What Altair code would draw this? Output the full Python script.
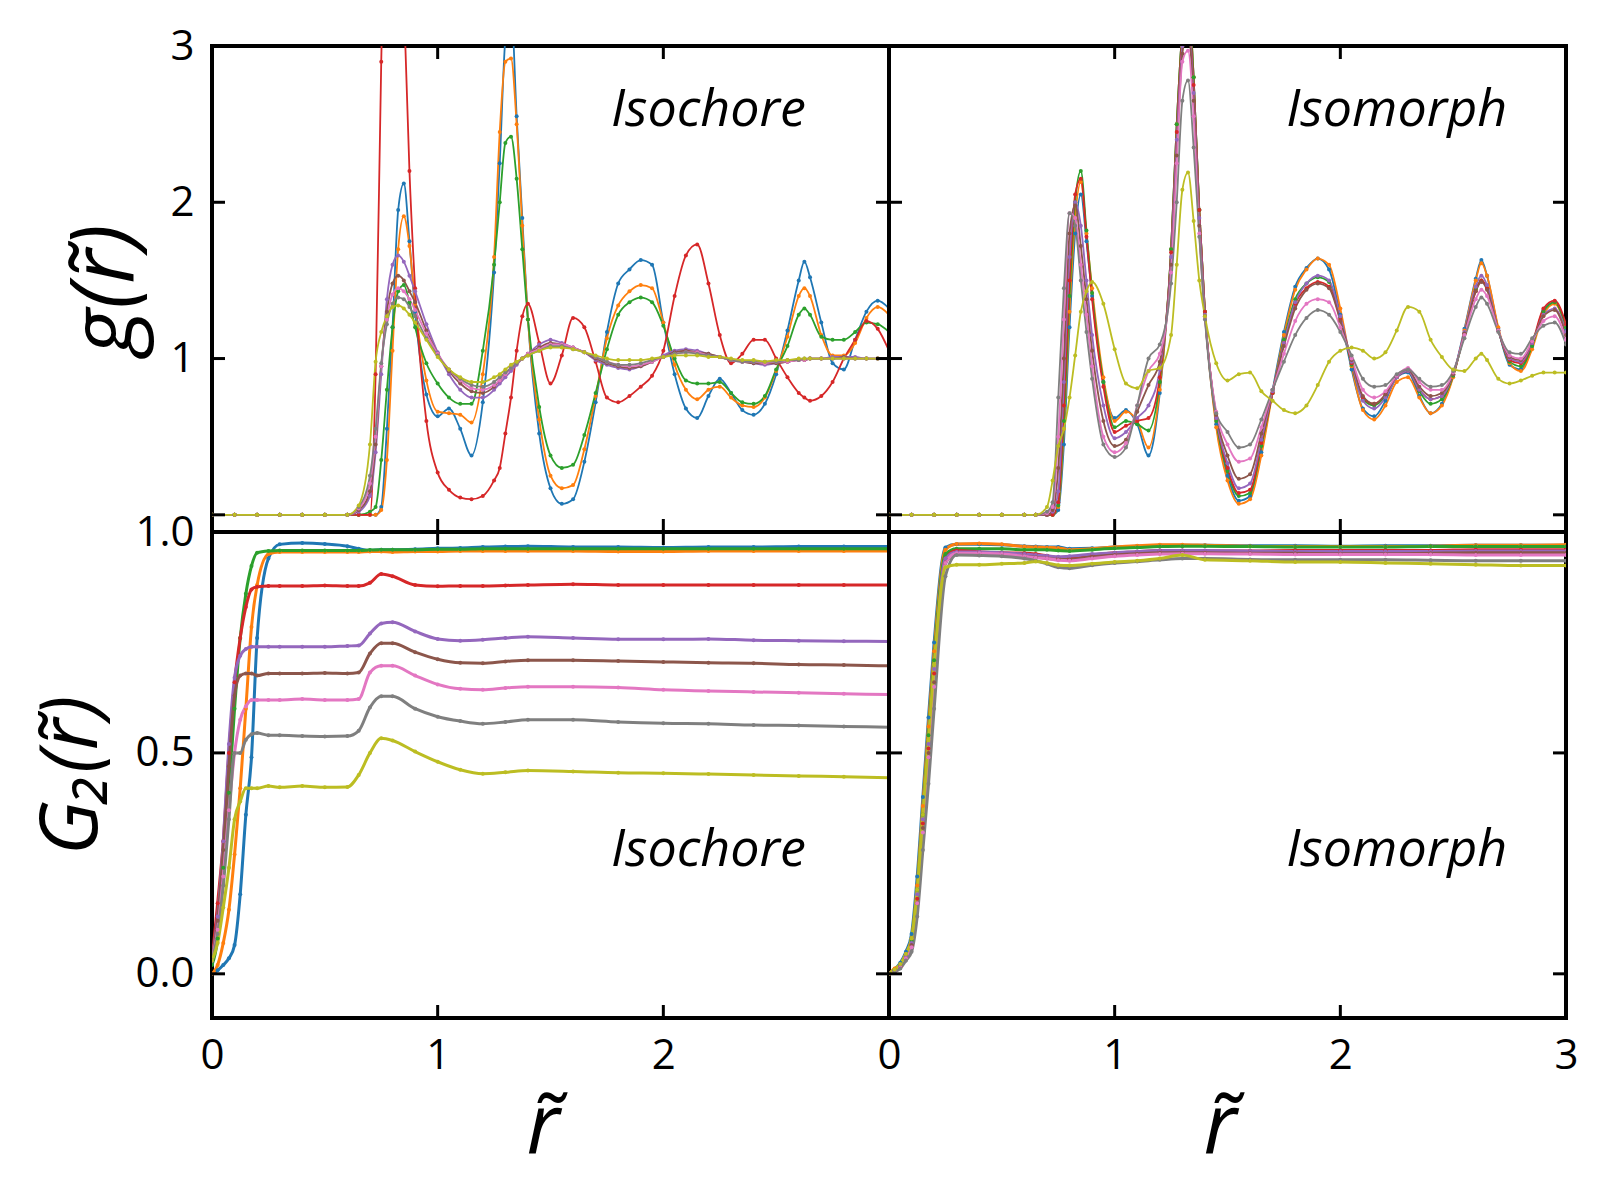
import altair as alt
import pandas as pd

FONT = "Open Sans"
SERIES = ["c1", "c2", "c3", "c4", "c5", "c6", "c7", "c8", "c9"]
COLORS = ["#1f77b4", "#ff7f0e", "#2ca02c", "#d62728", "#9467bd",
          "#8c564b", "#e377c2", "#7f7f7f", "#bcbd22"]

W, H = 677, 486
TICK = 13

# ---------------- r grids ----------------
R_TOP = [0, 0.1, 0.2, 0.3, 0.4, 0.5, 0.6,
         0.65, 0.7,
         0.725, 0.75, 0.775, 0.8, 0.825, 0.85, 0.875, 0.9,
         0.95, 1.0, 1.05, 1.1, 1.15, 1.2, 1.25,
         1.275, 1.3, 1.325, 1.35, 1.375, 1.4,
         1.45, 1.5, 1.55, 1.6, 1.65, 1.7, 1.75, 1.8, 1.85, 1.9, 1.95, 2.0,
         2.05, 2.1, 2.15, 2.2, 2.25, 2.3, 2.35, 2.4, 2.45, 2.5, 2.55, 2.6,
         2.625,
         2.65, 2.7, 2.75, 2.8, 2.85, 2.9, 2.95, 3.0]

R_BOT = [0, 0.025, 0.05, 0.075, 0.1, 0.125, 0.15, 0.175, 0.2,
         0.25, 0.3, 0.4, 0.5, 0.6,
         0.65, 0.7, 0.75, 0.8, 0.9, 1.0, 1.1, 1.2, 1.3,
         1.4, 1.6, 1.8, 2.0, 2.2, 2.4, 2.6, 2.8, 3.0]

# ---------------- g(r), isochore ----------------
ICG_BLUE = [0, 0, 0, 0, 0, 0, 0, 0, 0,
            0.0, 0.05, 0.55, 1.2, 1.95, 2.12, 1.75, 1.3,
            0.77, 0.63, 0.68, 0.55, 0.38, 0.72, 1.55,
            2.25, 3.05, 3.25, 2.55, 1.9, 1.25,
            0.52, 0.17, 0.07, 0.10, 0.34, 0.72, 1.17, 1.48, 1.57, 1.63, 1.6, 1.23,
            0.9, 0.68, 0.62, 0.76, 0.87, 0.78, 0.67, 0.64, 0.71, 0.9, 1.18, 1.5,
            1.62,
            1.52, 1.23, 0.97, 0.93, 1.12, 1.3, 1.37, 1.32]
ICG_ORANGE = [0, 0, 0, 0, 0, 0, 0, 0, 0,
              0.0, 0.03, 0.35, 1.05, 1.7, 1.91, 1.72, 1.35,
              0.86, 0.66, 0.65, 0.64, 0.59, 0.9, 1.65,
              2.45, 2.9, 2.92, 2.5, 1.85, 1.25,
              0.61, 0.25, 0.17, 0.19, 0.42, 0.76, 1.13, 1.34, 1.43, 1.47, 1.45, 1.23,
              0.96, 0.80, 0.74, 0.80, 0.82, 0.75, 0.70, 0.69, 0.75, 0.92, 1.14, 1.4,
              1.45,
              1.4, 1.15, 1.02, 1.02, 1.1, 1.26, 1.33, 1.28]
ICG_GREEN = [0, 0, 0, 0, 0, 0, 0, 0, 0.02,
             0.05, 0.35, 0.8, 1.2, 1.43, 1.47, 1.36, 1.2,
             0.97, 0.84, 0.75, 0.71, 0.71, 1.05, 1.6,
             2.0, 2.38, 2.42, 2.15, 1.7, 1.25,
             0.69, 0.38, 0.30, 0.32, 0.51, 0.78, 1.06, 1.28, 1.36, 1.39, 1.36, 1.21,
             1.0, 0.86, 0.84, 0.84, 0.85, 0.78, 0.72, 0.71, 0.76, 0.93, 1.08, 1.28,
             1.32,
             1.28, 1.14, 1.12, 1.12, 1.17, 1.23, 1.22, 1.17]
ICG_RED = [0, 0, 0, 0, 0, 0, 0, 0, 0.0,
           0.9, 2.9, 4.6, 5.3, 4.8, 3.3, 2.2, 1.45,
           0.6, 0.27, 0.16, 0.11, 0.10, 0.12, 0.22,
           0.3, 0.52, 0.75, 1.05, 1.27, 1.35,
           1.1, 0.84, 1.02, 1.26, 1.2, 0.98, 0.75, 0.72, 0.76, 0.82, 0.89, 1.05,
           1.4, 1.66, 1.73, 1.48, 1.15, 0.97, 1.03, 1.12, 1.12, 1.0, 0.88, 0.78,
           0.75,
           0.73, 0.76, 0.85, 1.0, 1.12, 1.24, 1.19, 1.05]
ICG_PURPLE = [0, 0, 0, 0, 0, 0, 0, 0.02, 0.12,
              0.4, 0.9, 1.38, 1.6, 1.66, 1.62, 1.53, 1.43,
              1.22, 1.04, 0.9, 0.8, 0.75, 0.75, 0.8,
              0.84, 0.88, 0.92, 0.96, 1.0, 1.03,
              1.09, 1.12, 1.10, 1.07, 1.04, 0.99, 0.96, 0.94, 0.93, 0.95, 0.98, 1.02,
              1.05, 1.06, 1.05, 1.03, 1.01, 0.99, 0.98, 0.97, 0.96, 0.97, 0.98, 0.99,
              0.99,
              1.0, 1.0, 1.01, 1.01, 1.01, 1.0, 1.0, 1.0]
ICG_BROWN = [0, 0, 0, 0, 0, 0, 0, 0.03, 0.15,
             0.45, 0.95, 1.3, 1.48, 1.53, 1.5, 1.43, 1.36,
             1.18, 1.03, 0.92, 0.84, 0.79, 0.78, 0.82,
             0.86, 0.9, 0.94, 0.97, 1.0, 1.03,
             1.07, 1.1, 1.09, 1.07, 1.04, 1.0, 0.97, 0.95, 0.94, 0.95, 0.98, 1.01,
             1.04, 1.05, 1.04, 1.03, 1.01, 0.99, 0.98, 0.97, 0.97, 0.97, 0.98, 0.99,
             0.99,
             1.0, 1.0, 1.0, 1.01, 1.0, 1.0, 1.0, 1.0]
ICG_PINK = [0, 0, 0, 0, 0, 0, 0, 0.04, 0.2,
            0.5, 0.95, 1.25, 1.41, 1.45, 1.43, 1.38, 1.31,
            1.16, 1.03, 0.93, 0.86, 0.81, 0.8, 0.83,
            0.86, 0.9, 0.94, 0.97, 1.0, 1.03,
            1.06, 1.09, 1.09, 1.07, 1.04, 1.01, 0.98, 0.96, 0.95, 0.96, 0.98, 1.01,
            1.03, 1.04, 1.04, 1.02, 1.01, 0.99, 0.98, 0.98, 0.97, 0.98, 0.98, 0.99,
            0.99,
            1.0, 1.0, 1.0, 1.0, 1.0, 1.0, 1.0, 1.0]
ICG_GRAY = [0, 0, 0, 0, 0, 0, 0, 0.05, 0.25,
            0.55, 0.97, 1.22, 1.35, 1.39, 1.38, 1.33, 1.27,
            1.13, 1.02, 0.93, 0.87, 0.83, 0.82, 0.85,
            0.88, 0.91, 0.94, 0.97, 1.0, 1.02,
            1.05, 1.08, 1.08, 1.06, 1.04, 1.01, 0.98, 0.96, 0.96, 0.97, 0.99, 1.01,
            1.03, 1.04, 1.03, 1.02, 1.01, 0.99, 0.98, 0.98, 0.98, 0.98, 0.99, 0.99,
            1.0,
            1.0, 1.0, 1.0, 1.0, 1.0, 1.0, 1.0, 1.0]
ICG_OLIVE = [0, 0, 0, 0, 0, 0, 0, 0.06, 0.45,
             0.98, 1.17, 1.27, 1.33, 1.34, 1.32, 1.28, 1.23,
             1.12, 1.01, 0.93, 0.88, 0.85, 0.85, 0.88,
             0.9, 0.93, 0.96, 0.98, 1.0, 1.02,
             1.05, 1.07, 1.07, 1.06, 1.04, 1.02, 1.0, 0.99, 0.99, 0.99, 1.0, 1.01,
             1.02, 1.02, 1.02, 1.01, 1.01, 1.0, 0.99, 0.99, 0.98, 0.99, 0.99, 1.0,
             1.0,
             1.0, 1.0, 1.0, 1.0, 1.0, 1.0, 1.0, 1.0]

# ---------------- g(r), isomorph ----------------
IMG_BLUE = [0, 0, 0, 0, 0, 0, 0, 0, 0,
            0.0, 0.03, 0.45, 1.2, 1.8, 2.05, 1.75, 1.4,
            0.85, 0.62, 0.67, 0.58, 0.38, 0.78, 1.7,
            2.5, 3.1, 3.3, 2.8, 1.95, 1.3,
            0.58, 0.25, 0.09, 0.12, 0.40, 0.8, 1.17, 1.46, 1.58, 1.64, 1.57, 1.28,
            0.93, 0.68, 0.63, 0.73, 0.88, 0.91, 0.76, 0.65, 0.71, 0.89, 1.19, 1.51,
            1.63,
            1.53, 1.19, 0.96, 0.93, 1.08, 1.31, 1.36, 1.19]
IMG_ORANGE = [0, 0, 0, 0, 0, 0, 0, 0, 0,
              0.0, 0.05, 0.55, 1.3, 1.9, 2.13, 1.8, 1.45,
              0.88, 0.6, 0.66, 0.6, 0.43, 0.8, 1.7,
              2.5, 3.1, 3.3, 2.8, 1.95, 1.3,
              0.56, 0.22, 0.07, 0.1, 0.38, 0.78, 1.15, 1.44, 1.57, 1.64, 1.6, 1.32,
              0.95, 0.67, 0.61, 0.7, 0.85, 0.88, 0.75, 0.65, 0.7, 0.88, 1.18, 1.5,
              1.61,
              1.53, 1.2, 0.97, 0.92, 1.06, 1.28, 1.35, 1.2]
IMG_GREEN = [0, 0, 0, 0, 0, 0, 0, 0, 0,
             0.0, 0.06, 0.6, 1.4, 2.0, 2.2, 1.82, 1.42,
             0.85, 0.56, 0.6, 0.58, 0.54, 0.85, 1.7,
             2.5, 3.1, 3.3, 2.8, 1.95, 1.3,
             0.6, 0.28, 0.12, 0.14, 0.44, 0.78, 1.12, 1.38, 1.48, 1.52, 1.49, 1.26,
             0.96, 0.74, 0.7, 0.76, 0.88, 0.92, 0.79, 0.71, 0.74, 0.89, 1.16, 1.44,
             1.5,
             1.45, 1.18, 0.98, 0.95, 1.08, 1.3, 1.36, 1.2]
IMG_RED = [0, 0, 0, 0, 0, 0, 0, 0, 0,
           0.0, 0.08, 0.7, 1.5, 2.05, 2.15, 1.78, 1.38,
           0.82, 0.53, 0.57, 0.6, 0.62, 0.88, 1.68,
           2.45, 3.05, 3.2, 2.75, 1.95, 1.3,
           0.62, 0.3, 0.14, 0.16, 0.46, 0.78, 1.1, 1.35, 1.45, 1.49, 1.46, 1.25,
           0.97, 0.75, 0.71, 0.77, 0.88, 0.92, 0.8, 0.74, 0.76, 0.9, 1.16, 1.43,
           1.5,
           1.45, 1.18, 0.99, 0.97, 1.1, 1.32, 1.37, 1.22]
IMG_PURPLE = [0, 0, 0, 0, 0, 0, 0, 0, 0.0,
              0.02, 0.15, 0.85, 1.65, 2.0, 1.85, 1.5, 1.15,
              0.7, 0.49, 0.53, 0.62, 0.7, 0.93, 1.65,
              2.4, 3.0, 3.15, 2.7, 1.9, 1.28,
              0.62, 0.33, 0.17, 0.2, 0.48, 0.79, 1.1, 1.36, 1.48, 1.53, 1.5, 1.27,
              0.98, 0.73, 0.68, 0.75, 0.88, 0.92, 0.8, 0.74, 0.76, 0.9, 1.17, 1.46,
              1.53,
              1.47, 1.18, 1.0, 0.98, 1.1, 1.28, 1.32, 1.17]
IMG_BROWN = [0, 0, 0, 0, 0, 0, 0, 0, 0.0,
             0.03, 0.3, 1.0, 1.8, 1.98, 1.72, 1.38, 1.05,
             0.6, 0.44, 0.48, 0.66, 0.83, 0.98, 1.6,
             2.3, 2.95, 3.1, 2.65, 1.85, 1.27,
             0.64, 0.38, 0.23, 0.26, 0.52, 0.8, 1.08, 1.32, 1.44, 1.48, 1.45, 1.24,
             0.99, 0.76, 0.71, 0.77, 0.89, 0.93, 0.82, 0.76, 0.78, 0.9, 1.16, 1.43,
             1.49,
             1.44, 1.18, 1.01, 0.99, 1.11, 1.27, 1.31, 1.15]
IMG_PINK = [0, 0, 0, 0, 0, 0, 0, 0, 0.01,
            0.05, 0.5, 1.25, 1.93, 1.9, 1.6, 1.28, 0.95,
            0.5, 0.4, 0.46, 0.7, 0.92, 1.03, 1.55,
            2.25, 2.9, 2.97, 2.55, 1.8, 1.26,
            0.66, 0.45, 0.34, 0.36, 0.56, 0.8, 1.03, 1.24, 1.35, 1.38, 1.36, 1.2,
            1.0, 0.8, 0.75, 0.79, 0.89, 0.94, 0.85, 0.8, 0.8, 0.91, 1.15, 1.38,
            1.44,
            1.4, 1.18, 1.02, 1.0, 1.11, 1.24, 1.27, 1.12]
IMG_GRAY = [0, 0, 0, 0, 0, 0, 0, 0, 0.02,
            0.08, 0.75, 1.45, 1.93, 1.85, 1.5, 1.17, 0.87,
            0.45, 0.37, 0.43, 0.7, 1.0, 1.09, 1.48,
            2.0, 2.65, 2.78, 2.35, 1.78, 1.25,
            0.65, 0.53, 0.43, 0.45, 0.61, 0.8, 0.98, 1.15, 1.26, 1.31, 1.28, 1.17,
            1.02, 0.87, 0.82, 0.83, 0.9, 0.93, 0.87, 0.82, 0.83, 0.92, 1.13, 1.33,
            1.39,
            1.35, 1.17, 1.04, 1.03, 1.13, 1.21, 1.23, 1.09]
IMG_OLIVE = [0, 0, 0, 0, 0, 0, 0, 0.0, 0.05,
             0.22, 0.44, 0.55, 0.75, 1.02, 1.3, 1.43, 1.49,
             1.35, 1.06, 0.84, 0.81, 0.92, 0.94, 1.15,
             1.6, 2.08, 2.19, 1.88, 1.5, 1.27,
             0.97, 0.86, 0.9, 0.91, 0.79, 0.73, 0.67, 0.65, 0.7, 0.83, 0.98, 1.05,
             1.07, 1.05, 1.0, 1.04, 1.18, 1.33, 1.3, 1.12, 1.01, 0.93, 0.92, 1.0,
             1.03,
             0.99, 0.87, 0.84, 0.86, 0.89, 0.91, 0.91, 0.91]

# ---------------- G2(r), isochore ----------------
ICG2_BLUE = [0.0, 0.008, 0.02, 0.035, 0.065, 0.18, 0.36, 0.49, 0.76,
             0.94, 0.972, 0.975, 0.973, 0.968,
             0.962, 0.958, 0.96, 0.96, 0.961, 0.963, 0.964, 0.966, 0.967,
             0.968, 0.966, 0.966, 0.965, 0.966, 0.966, 0.967, 0.967, 0.967]
ICG2_ORANGE = [0.0, 0.02, 0.07, 0.145, 0.27, 0.42, 0.6, 0.785, 0.88,
               0.95, 0.955, 0.955, 0.955, 0.955,
               0.955, 0.956, 0.956, 0.955, 0.956, 0.956, 0.957, 0.957, 0.957,
               0.957, 0.957, 0.956, 0.956, 0.957, 0.957, 0.957, 0.957, 0.957]
ICG2_GREEN = [0.02, 0.08, 0.24, 0.41, 0.6, 0.76, 0.86, 0.923, 0.953,
              0.957, 0.958, 0.958, 0.958, 0.958,
              0.958, 0.959, 0.96, 0.96, 0.96, 0.961, 0.961, 0.962, 0.962,
              0.962, 0.962, 0.962, 0.962, 0.962, 0.962, 0.962, 0.962, 0.962]
ICG2_RED = [0.03, 0.16, 0.3, 0.5, 0.66, 0.76, 0.83, 0.87, 0.876,
            0.878, 0.878, 0.878, 0.879, 0.878,
            0.878, 0.885, 0.905, 0.9, 0.88, 0.877, 0.878, 0.878, 0.879,
            0.88, 0.882, 0.88, 0.88, 0.88, 0.88, 0.88, 0.88, 0.88]
ICG2_PURPLE = [0.03, 0.13, 0.3, 0.52, 0.67, 0.72, 0.735, 0.74, 0.74,
               0.74, 0.74, 0.74, 0.74, 0.742,
               0.743, 0.77, 0.793, 0.796, 0.775, 0.758, 0.754, 0.756, 0.76,
               0.763, 0.76, 0.757, 0.757, 0.758, 0.755, 0.754, 0.753, 0.752]
ICG2_BROWN = [0.03, 0.12, 0.28, 0.47, 0.63, 0.675, 0.68, 0.68, 0.675,
              0.68, 0.68, 0.68, 0.681, 0.68,
              0.682, 0.725, 0.748, 0.748, 0.728, 0.712, 0.704, 0.703, 0.707,
              0.71, 0.71, 0.708, 0.706, 0.704, 0.703, 0.7, 0.699, 0.697]
ICG2_PINK = [0.03, 0.1, 0.22, 0.37, 0.5, 0.575, 0.605, 0.62, 0.62,
             0.62, 0.62, 0.622, 0.62, 0.62,
             0.622, 0.682, 0.697, 0.697, 0.675, 0.655, 0.645, 0.643, 0.647,
             0.65, 0.65, 0.648, 0.643, 0.64, 0.638, 0.636, 0.634, 0.632]
ICG2_GRAY = [0.03, 0.09, 0.2, 0.35, 0.5, 0.5, 0.53, 0.542, 0.545,
             0.54, 0.54, 0.538, 0.537, 0.538,
             0.55, 0.603, 0.628, 0.628, 0.6, 0.582, 0.572, 0.566, 0.57,
             0.575, 0.575, 0.57, 0.567, 0.566, 0.563, 0.562, 0.56, 0.558]
ICG2_OLIVE = [0.03, 0.07, 0.15, 0.24, 0.35, 0.39, 0.42, 0.42, 0.42,
              0.425, 0.422, 0.425, 0.422, 0.423,
              0.45, 0.5, 0.533, 0.528, 0.503, 0.48, 0.462, 0.453, 0.456,
              0.46, 0.458, 0.455, 0.454, 0.452, 0.45, 0.448, 0.446, 0.444]

# ---------------- G2(r), isomorph ----------------
IMG2_BLUE = [0.0, 0.01, 0.025, 0.05, 0.09, 0.22, 0.4, 0.58, 0.75,
             0.965, 0.972, 0.972, 0.971, 0.968,
             0.967, 0.966, 0.966, 0.962, 0.963, 0.966, 0.968, 0.97, 0.97,
             0.97, 0.969, 0.969, 0.968, 0.969, 0.969, 0.97, 0.97, 0.97]
IMG2_ORANGE = [0.0, 0.012, 0.02, 0.045, 0.08, 0.2, 0.38, 0.56, 0.73,
               0.96, 0.973, 0.974, 0.972, 0.967,
               0.966, 0.965, 0.964, 0.96, 0.962, 0.966, 0.969, 0.971, 0.971,
               0.97, 0.968, 0.967, 0.967, 0.967, 0.968, 0.97, 0.97, 0.971]
IMG2_GREEN = [0.0, 0.008, 0.02, 0.04, 0.075, 0.19, 0.36, 0.54, 0.71,
              0.95, 0.962, 0.962, 0.962, 0.96,
              0.96, 0.96, 0.958, 0.957, 0.96, 0.963, 0.965, 0.967, 0.968,
              0.968, 0.967, 0.966, 0.966, 0.966, 0.967, 0.967, 0.967, 0.967]
IMG2_RED = [0.0, 0.005, 0.015, 0.035, 0.065, 0.17, 0.34, 0.51, 0.68,
            0.94, 0.958, 0.955, 0.953, 0.952,
            0.95, 0.946, 0.942, 0.94, 0.948, 0.953, 0.955, 0.958, 0.958,
            0.957, 0.957, 0.958, 0.958, 0.958, 0.958, 0.96, 0.96, 0.96]
IMG2_PURPLE = [0.0, 0.008, 0.018, 0.04, 0.07, 0.18, 0.35, 0.52, 0.69,
               0.94, 0.955, 0.955, 0.953, 0.95,
               0.948, 0.946, 0.944, 0.945, 0.95, 0.953, 0.956, 0.958, 0.958,
               0.958, 0.957, 0.956, 0.956, 0.956, 0.956, 0.957, 0.957, 0.957]
IMG2_BROWN = [0.0, 0.006, 0.016, 0.035, 0.065, 0.16, 0.33, 0.5, 0.66,
              0.93, 0.95, 0.949, 0.948, 0.945,
              0.943, 0.94, 0.938, 0.938, 0.944, 0.948, 0.951, 0.953, 0.953,
              0.953, 0.952, 0.952, 0.951, 0.951, 0.952, 0.953, 0.953, 0.953]
IMG2_PINK = [0.0, 0.006, 0.015, 0.035, 0.06, 0.16, 0.32, 0.49, 0.65,
             0.93, 0.952, 0.952, 0.95, 0.945,
             0.942, 0.94, 0.936, 0.935, 0.94, 0.945, 0.948, 0.95, 0.951,
             0.951, 0.95, 0.949, 0.949, 0.949, 0.949, 0.948, 0.948, 0.948]
IMG2_GRAY = [0.0, 0.005, 0.012, 0.03, 0.05, 0.13, 0.28, 0.43, 0.6,
             0.9, 0.948, 0.947, 0.945, 0.94,
             0.935, 0.928, 0.92, 0.918, 0.925, 0.93, 0.933, 0.937, 0.94,
             0.94, 0.938, 0.937, 0.937, 0.937, 0.936, 0.935, 0.935, 0.935]
IMG2_OLIVE = [0.0, 0.01, 0.022, 0.045, 0.08, 0.19, 0.36, 0.53, 0.7,
              0.92, 0.926, 0.926, 0.928, 0.93,
              0.933, 0.93, 0.925, 0.924, 0.928, 0.932, 0.935, 0.94, 0.948,
              0.937, 0.935, 0.932, 0.932, 0.93, 0.928, 0.926, 0.924, 0.924]

# ---------------- ticks / labels ----------------
TOP_Y_LABELS = [1, 2, 3]
BOT_Y_LABELS = [0.0, 0.5, 1.0]
TOP_Y_TICKS = [0, 1, 2]
BOT_Y_TICKS = [0.0, 0.5]
X_TICKS = [1, 2]
LEFT_X_LABELS = [0, 1, 2]
RIGHT_X_LABELS = [0, 1, 2, 3]
TOP_DOMAIN = [-0.11, 3.0]
BOT_DOMAIN = [-0.1, 1.0]


def long_frame(r, lists):
    rows = []
    for name, vals in zip(SERIES, lists):
        assert len(vals) == len(r), (name, len(vals), len(r))
        for x, v in zip(r, vals):
            rows.append({"r": x, "v": v, "s": name})
    return pd.DataFrame(rows)


def y_axis(values, fmt, title, title_x, title_size):
    return alt.Axis(values=values, format=fmt, ticks=False, tickSize=0, domain=False,
                    grid=False, labelFont=FONT, labelFontSize=42, labelColor="black",
                    labelPadding=18, labelFlush=False, labelOverlap=False,
                    title=title, titleFont=FONT, titleFontSize=title_size,
                    titleFontStyle="italic",
                    titleFontWeight="normal", titleColor="black", titleX=title_x,
                    titleY=H / 2, titleAngle=270, titleAlign="center",
                    titleBaseline="middle")


def x_axis(values):
    return alt.Axis(values=values, format="d", ticks=False, tickSize=0, domain=False,
                    grid=False, labelFont=FONT, labelFontSize=42, labelColor="black",
                    labelPadding=17, labelFlush=False, labelOverlap=False,
                    title="r\u0303", titleFont=FONT, titleFontSize=84,
                    titleFontStyle="italic", titleFontWeight="normal", titleColor="black",
                    titleX=W / 2 - 8, titleY=135, titleAlign="center",
                    titleBaseline="alphabetic")


def panel(df, ydom, ytick_vals, yaxis, xaxis, label, label_r, label_v, lw):
    xs = alt.Scale(domain=[0, 3], nice=False, zero=False)
    ys = alt.Scale(domain=ydom, nice=False, zero=False)
    col = alt.Color("s:N", scale=alt.Scale(domain=SERIES, range=COLORS), legend=None)

    def X(f):
        return alt.X(f, scale=xs, axis=xaxis)

    def Y(f):
        return alt.Y(f, scale=ys, axis=yaxis)

    base = alt.Chart(df)
    lines = base.mark_line(clip=True, interpolate="monotone", strokeWidth=lw).encode(
        x=X("r:Q"), y=Y("v:Q"), color=col)
    dots = base.mark_circle(clip=True, size=16, opacity=1).encode(
        x=X("r:Q"), y=Y("v:Q"), color=col)
    yt = pd.DataFrame({"t": ytick_vals})
    xt = pd.DataFrame({"t": X_TICKS})
    rule = dict(color="black", strokeWidth=3)
    left = alt.Chart(yt).mark_rule(**rule).encode(
        y=Y("t:Q"), x=alt.value(0), x2=alt.value(TICK))
    right = alt.Chart(yt).mark_rule(**rule).encode(
        y=Y("t:Q"), x=alt.value(W - TICK), x2=alt.value(W))
    top = alt.Chart(xt).mark_rule(**rule).encode(
        x=X("t:Q"), y=alt.value(0), y2=alt.value(TICK))
    bottom = alt.Chart(xt).mark_rule(**rule).encode(
        x=X("t:Q"), y=alt.value(H - TICK), y2=alt.value(H))
    lab = pd.DataFrame({"r": [label_r], "v": [label_v], "t": [label]})
    text = alt.Chart(lab).mark_text(font=FONT, fontSize=52, fontStyle="italic",
                                    color="black", align="center",
                                    baseline="alphabetic").encode(
        x=X("r:Q"), y=Y("v:Q"), text="t:N")
    return alt.layer(lines, dots, left, right, top, bottom, text).properties(width=W, height=H)


df_tl = long_frame(R_TOP, [ICG_BLUE, ICG_ORANGE, ICG_GREEN, ICG_RED, ICG_PURPLE,
                           ICG_BROWN, ICG_PINK, ICG_GRAY, ICG_OLIVE])
df_tr = long_frame(R_TOP, [IMG_BLUE, IMG_ORANGE, IMG_GREEN, IMG_RED, IMG_PURPLE,
                           IMG_BROWN, IMG_PINK, IMG_GRAY, IMG_OLIVE])
df_bl = long_frame(R_BOT, [ICG2_BLUE, ICG2_ORANGE, ICG2_GREEN, ICG2_RED, ICG2_PURPLE,
                           ICG2_BROWN, ICG2_PINK, ICG2_GRAY, ICG2_OLIVE])
df_br = long_frame(R_BOT, [IMG2_BLUE, IMG2_ORANGE, IMG2_GREEN, IMG2_RED, IMG2_PURPLE,
                           IMG2_BROWN, IMG2_PINK, IMG2_GRAY, IMG2_OLIVE])

tl = panel(df_tl, TOP_DOMAIN, TOP_Y_TICKS,
           y_axis(TOP_Y_LABELS, "d", "g(r\u0303)", -106, 88), None,
           "Isochore", 2.2, 2.49, 1.8)
tr = panel(df_tr, TOP_DOMAIN, TOP_Y_TICKS, None, None,
           "Isomorph", 2.25, 2.49, 1.8)
bl = panel(df_bl, BOT_DOMAIN, BOT_Y_TICKS,
           y_axis(BOT_Y_LABELS, ".1f", "G\u2082(r\u0303)", -140, 80),
           x_axis(LEFT_X_LABELS),
           "Isochore", 2.2, 0.243, 3)
br = panel(df_br, BOT_DOMAIN, BOT_Y_TICKS, None, x_axis(RIGHT_X_LABELS),
           "Isomorph", 2.25, 0.243, 3)

chart = alt.concat(tl, tr, bl, br, columns=2, spacing=0, bounds="flush").properties(
    padding={"left": 22, "top": 15, "right": 5, "bottom": 5},
    background="white",
).configure_view(stroke="black", strokeWidth=4)

chart.save("out.html", embed_options={"renderer": "svg", "actions": False})
